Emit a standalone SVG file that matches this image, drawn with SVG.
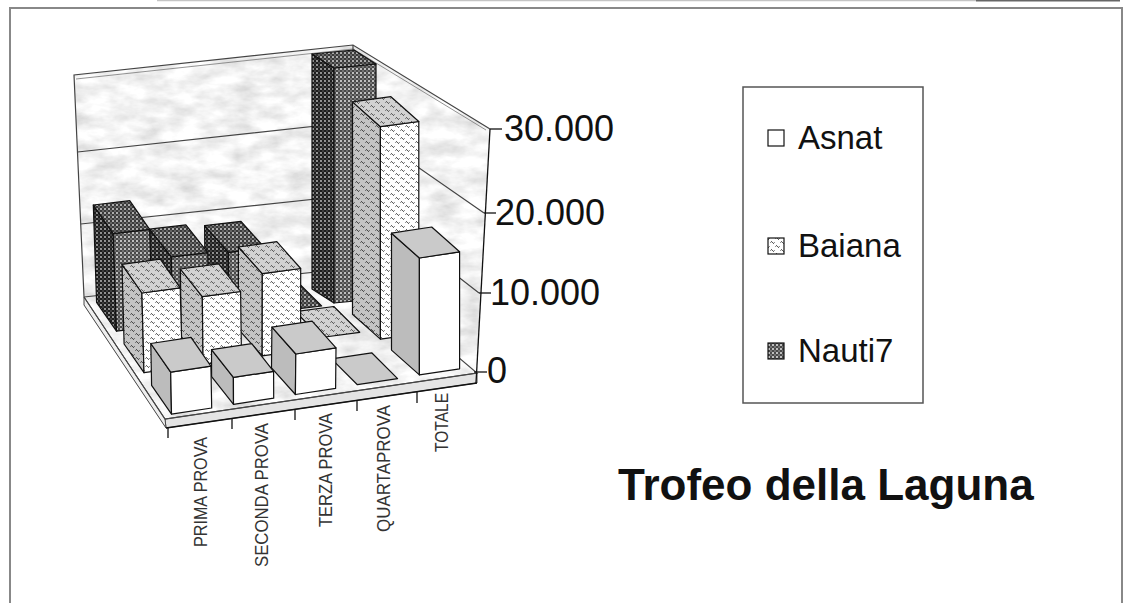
<svg xmlns="http://www.w3.org/2000/svg" width="1128" height="603" viewBox="0 0 1128 603">
<defs>
<style>
.t{font-family:"Liberation Sans",Arial,sans-serif}
.e{stroke:#111;stroke-width:1.2;stroke-linejoin:round}
.aF{fill:#fff}.aS{fill:#bcbcbc}.aT{fill:#cacaca}
.bF{fill:url(#pBw)}.bS{fill:url(#pBg)}.bT{fill:url(#pBt)}
.nF{fill:url(#pNf)}.nS{fill:url(#pNs)}.nT{fill:url(#pNt)}
.wall{fill:#ddd;filter:url(#marble)}
.wl{fill:none;stroke:#444;stroke-width:1.2}
.cat{font-size:18px;fill:#333}
.val{font-size:36px;fill:#111}
.leg{font-size:33px;fill:#111}
</style>
<filter id="marble" x="0" y="0" width="1" height="1">
<feTurbulence type="fractalNoise" baseFrequency="0.035 0.07" numOctaves="4" seed="11" result="n"/>
<feColorMatrix in="n" type="matrix" values="0.55 0 0 0 0.62  0.55 0 0 0 0.62  0.55 0 0 0 0.62  0 0 0 0 1" result="g"/>
<feComposite in="g" in2="SourceGraphic" operator="in"/>
</filter>
<pattern id="pBw" width="10" height="8" patternUnits="userSpaceOnUse"><rect width="10" height="8" fill="#fff"/><path d="M0.5,2.5 q1,-1.8 2,0 t2,0 M5.5,6.5 q1,-1.8 2,0 t2,0" fill="none" stroke="#111" stroke-width="0.9"/></pattern>
<pattern id="pBg" width="10" height="8" patternUnits="userSpaceOnUse"><rect width="10" height="8" fill="#c4c4c4"/><path d="M0.5,2.5 q1,-1.8 2,0 t2,0 M5.5,6.5 q1,-1.8 2,0 t2,0" fill="none" stroke="#111" stroke-width="0.9"/></pattern>
<pattern id="pBt" width="10" height="8" patternUnits="userSpaceOnUse"><rect width="10" height="8" fill="#d2d2d2"/><path d="M0.5,2.5 q1,-1.8 2,0 t2,0 M5.5,6.5 q1,-1.8 2,0 t2,0" fill="none" stroke="#222" stroke-width="0.9"/></pattern>
<pattern id="pNf" width="4" height="4" patternUnits="userSpaceOnUse"><rect width="4" height="4" fill="#4a4a4a"/><circle cx="1" cy="1" r="0.95" fill="#f2f2f2"/><circle cx="3" cy="3" r="0.8" fill="#aaa"/></pattern>
<pattern id="pNs" width="4" height="4" patternUnits="userSpaceOnUse"><rect width="4" height="4" fill="#1e1e1e"/><circle cx="1" cy="1" r="0.9" fill="#c8c8c8"/><circle cx="3" cy="3" r="0.7" fill="#777"/></pattern>
<pattern id="pNt" width="4" height="4" patternUnits="userSpaceOnUse"><rect width="4" height="4" fill="#3a3a3a"/><circle cx="1" cy="1" r="0.95" fill="#ddd"/><circle cx="3" cy="3" r="0.8" fill="#999"/></pattern>
</defs>

<g id="frame">
<rect x="0" y="0" width="1128" height="603" fill="#fff"/>
<line x1="157" y1="0.5" x2="976" y2="0.5" stroke="#c4c4c4" stroke-width="1.5"/>
<line x1="976" y1="0.5" x2="1120" y2="0.5" stroke="#666" stroke-width="2"/>
<rect x="10" y="8" width="1112" height="640" fill="#fff" stroke="#888" stroke-width="2"/>
</g>

<g id="walls">
<polygon class="wall" points="74,75 353,45 353,268 84,297"/>
<polygon class="wall" points="353,45 490,129 477,373 353,268"/>
<polygon class="wall" points="165,419 477,373 353,268 84,297"/>
<polygon points="165,419 477,373 477,383 166,428" fill="#e4e4e4" stroke="#444" stroke-width="1"/>
<polygon points="84,297 165,419 166,428 84,305" fill="#efefef" stroke="#444" stroke-width="1"/>
<polyline class="wl" points="84,297 74,75 353,45 490,129"/>
<polyline fill="none" stroke="#777" stroke-width="0.8" points="76,79 353,49 486,130"/>
<line class="wl" x1="353" y1="45" x2="353" y2="268"/>
<polyline class="wl" points="84,297 353,268 477,373 165,419 84,297"/>
<polyline class="wl" points="77.5,152 353,122 484,213"/>
<polyline class="wl" points="80.7,224 353,195 479,293"/>
</g>

<g id="bars">
<g id="nauti7-totale"><polygon class="e nS" points="334,303 334,68 312,54 312,289"/><polygon class="e nF" points="334,303 376,299 376,64 334,68"/><polygon class="e nT" points="334,68 376,64 354,50 312,54"/></g>
<g id="nauti7-quarta"><polygon class="e nT" points="285.2,310.3 321.6,306 295.7,280.2 259.3,284.5"/></g>
<g id="nauti7-terza"><polygon class="e nS" points="229,317.2 228.5,252.3 204.6,225.6 205.1,290.5"/><polygon class="e nF" points="229,317.2 265.4,312.9 264.9,248 228.5,252.3"/><polygon class="e nT" points="228.5,252.3 264.9,248 241,221.3 204.6,225.6"/></g>
<g id="nauti7-seconda"><polygon class="e nS" points="172.8,324.2 171.4,256.9 149.5,229.2 150.9,296.5"/><polygon class="e nF" points="172.8,324.2 209.2,319.9 207.8,252.6 171.4,256.9"/><polygon class="e nT" points="171.4,256.9 207.8,252.6 185.9,224.9 149.5,229.2"/></g>
<g id="nauti7-prima"><polygon class="e nS" points="116.5,331.2 113.2,233.7 93.3,205 96.6,302.5"/><polygon class="e nF" points="116.5,331.2 152.9,326.9 149.6,229.4 113.2,233.7"/><polygon class="e nT" points="113.2,233.7 149.6,229.4 129.7,200.7 93.3,205"/></g>

<g id="baiana-totale"><polygon class="e bS" points="380.4,339.1 380.4,126.7 352.5,101.9 352.5,314.3"/><polygon class="e bF" points="380.4,339.1 418.8,333.9 418.8,121.5 380.4,126.7"/><polygon class="e bT" points="380.4,126.7 418.8,121.5 390.9,96.7 352.5,101.9"/></g>
<g id="baiana-quarta"><polygon class="e bT" points="321.3,337.5 359.7,332.3 333.8,306.5 295.4,311.7"/></g>
<g id="baiana-terza"><polygon class="e bS" points="262.2,355.9 262.3,273.7 238.4,247 238.3,329.2"/><polygon class="e bF" points="262.2,355.9 300.6,350.7 300.7,268.5 262.3,273.7"/><polygon class="e bT" points="262.3,273.7 300.7,268.5 276.8,241.7 238.4,247"/></g>
<g id="baiana-seconda"><polygon class="e bS" points="203.1,364.3 202.3,296.7 180.4,269 181.2,336.6"/><polygon class="e bF" points="203.1,364.3 241.5,359.1 240.6,291.5 202.3,296.7"/><polygon class="e bT" points="202.3,296.7 240.6,291.5 218.7,263.8 180.4,269"/></g>
<g id="baiana-prima"><polygon class="e bS" points="144,372.7 141.9,293 122,264.3 124.1,344"/><polygon class="e bF" points="144,372.7 182.4,367.5 180.2,287.8 141.9,293"/><polygon class="e bT" points="141.9,293 180.2,287.8 160.3,259.1 122,264.3"/></g>

<g id="asnat-totale"><polygon class="e aS" points="419.4,374.9 419.4,258 391.5,233.2 391.5,350.1"/><polygon class="e aF" points="419.4,374.9 459.6,368.8 459.6,251.8 419.4,258"/><polygon class="e aT" points="419.4,258 459.6,251.8 431.7,227 391.5,233.2"/></g>
<g id="asnat-quarta"><polygon class="e aT" points="357.4,384.7 397.6,378.6 371.7,352.8 331.5,358.9"/></g>
<g id="asnat-terza"><polygon class="e aS" points="295.4,394.5 295.8,354 271.9,327.2 271.5,367.8"/><polygon class="e aF" points="295.4,394.5 335.6,388.4 336,347.8 295.8,354"/><polygon class="e aT" points="295.8,354 336,347.8 312.1,321.1 271.9,327.2"/></g>
<g id="asnat-seconda"><polygon class="e aS" points="233.5,404.3 233.4,377.4 211.5,349.7 211.6,376.6"/><polygon class="e aF" points="233.5,404.3 273.7,398.2 273.6,371.3 233.4,377.4"/><polygon class="e aT" points="233.4,377.4 273.6,371.3 251.7,343.6 211.5,349.7"/></g>
<g id="asnat-prima"><polygon class="e aS" points="171.5,414.1 170.7,372.2 150.8,343.5 151.6,385.4"/><polygon class="e aF" points="171.5,414.1 211.7,408 210.9,366.1 170.7,372.2"/><polygon class="e aT" points="170.7,372.2 210.9,366.1 191,337.4 150.8,343.5"/></g>
</g>

<g id="axes" stroke="#111" stroke-width="1.3" fill="none">
<line x1="490" y1="129" x2="476" y2="383"/>
<line x1="490" y1="129" x2="502" y2="129"/>
<line x1="484" y1="213" x2="496" y2="213"/>
<line x1="479" y1="293" x2="491" y2="293"/>
<line x1="474" y1="372" x2="487" y2="372"/>
<line x1="166" y1="428" x2="477" y2="383"/>
<line x1="168" y1="427" x2="168" y2="438"/>
<line x1="232" y1="418" x2="232" y2="429"/>
<line x1="295" y1="409" x2="295" y2="420"/>
<line x1="357" y1="400" x2="357" y2="411"/>
<line x1="417" y1="392" x2="417" y2="403"/>
</g>

<g id="value-labels" class="t val">
<text x="504" y="141">30.000</text>
<text x="495" y="225">20.000</text>
<text x="490" y="305">10.000</text>
<text x="487" y="383">0</text>
</g>

<g id="category-labels" class="t cat" text-anchor="end">
<text transform="translate(207,437) rotate(-90)" textLength="110" lengthAdjust="spacingAndGlyphs">PRIMA PROVA</text>
<text transform="translate(268,423) rotate(-90)" textLength="144" lengthAdjust="spacingAndGlyphs">SECONDA PROVA</text>
<text transform="translate(332,413) rotate(-90)" textLength="114" lengthAdjust="spacingAndGlyphs">TERZA PROVA</text>
<text transform="translate(390,405) rotate(-90)" textLength="127" lengthAdjust="spacingAndGlyphs">QUARTAPROVA</text>
<text transform="translate(448,393) rotate(-90)" textLength="59" lengthAdjust="spacingAndGlyphs">TOTALE</text>
</g>

<g id="legend">
<rect x="743" y="87" width="180" height="316" fill="#fff" stroke="#555" stroke-width="1.5"/>
<rect x="768" y="130" width="16" height="16" fill="#fff" stroke="#111" stroke-width="1.2"/>
<rect x="768" y="238" width="16" height="16" fill="url(#pBw)" stroke="#111" stroke-width="1.2"/>
<rect x="768" y="343" width="16" height="16" fill="url(#pNf)" stroke="#111" stroke-width="1.2"/>
<text class="t leg" x="798" y="149">Asnat</text>
<text class="t leg" x="798" y="257">Baiana</text>
<text class="t leg" x="798" y="362">Nauti7</text>
</g>

<g id="title">
<text class="t" x="618" y="500" font-size="44" font-weight="bold" fill="#111">Trofeo della Laguna</text>
</g>
</svg>
